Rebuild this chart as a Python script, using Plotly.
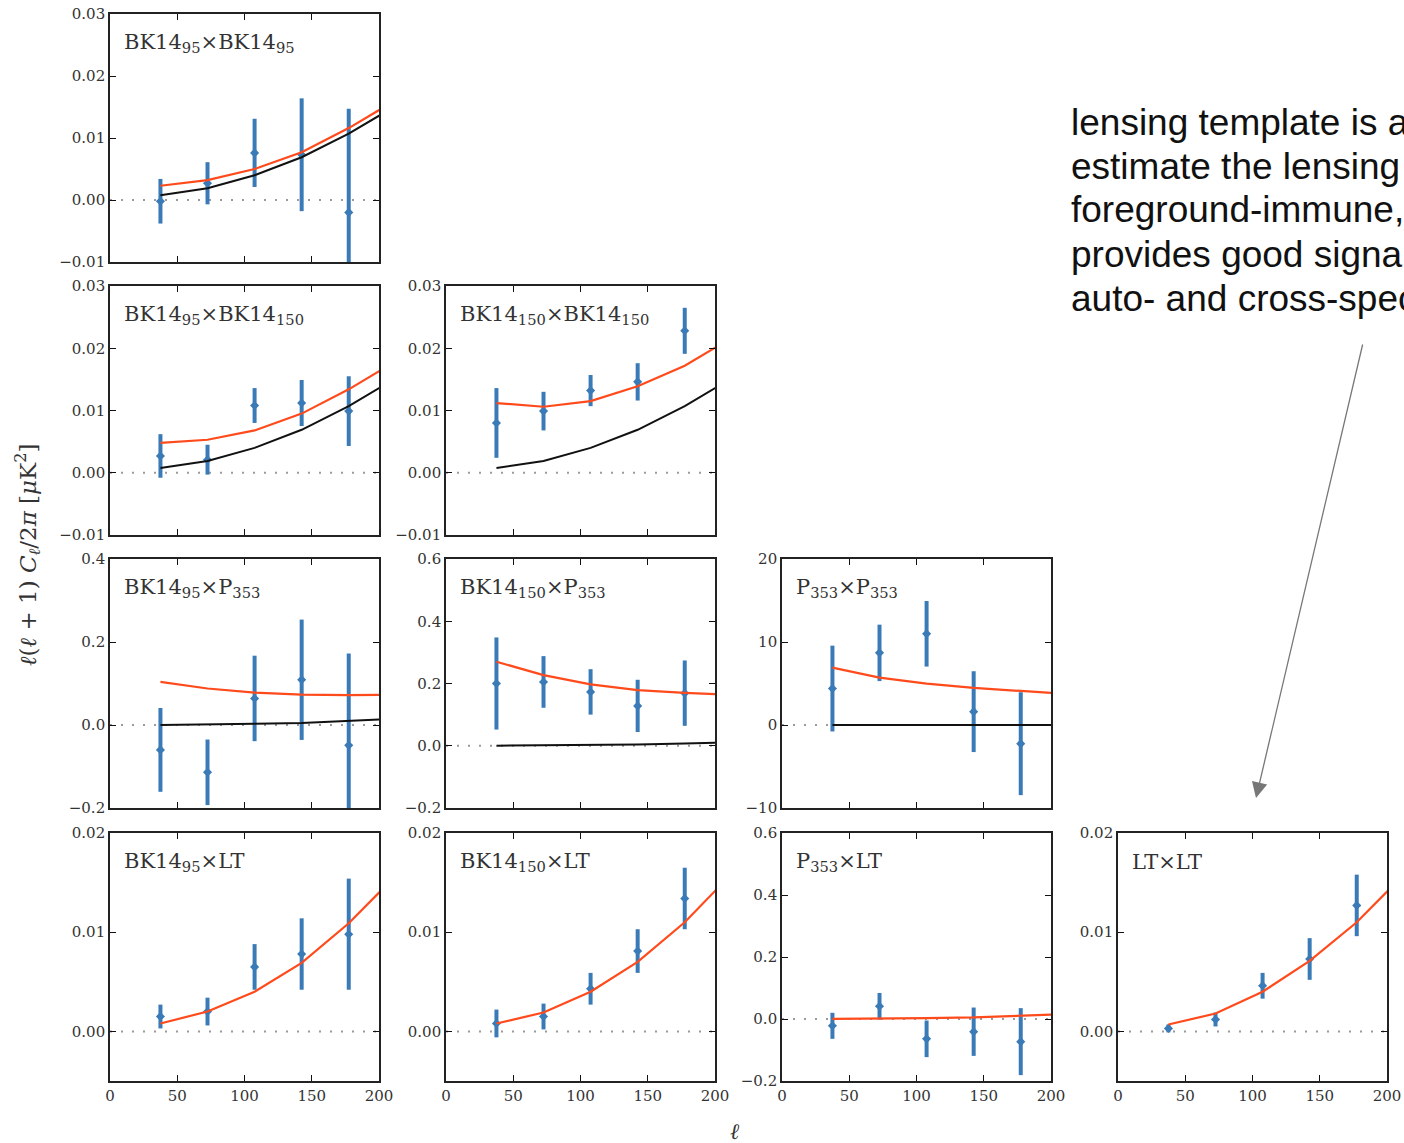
import plotly.graph_objects as go

# ---------------- data ----------------
ELL = [37.5, 72.5, 107.5, 142.5, 177.5]
ELL_MODEL = [37.5, 72.5, 107.5, 142.5, 177.5, 212.5]
X_TICKS = [0, 50, 100, 150, 200]
X_TICK_LABELS = ["0", "50", "100", "150", "200"]

bk95_bk95_val = [-0.0002, 0.0027, 0.0076, 0.0073, -0.0020]
bk95_bk95_err = [0.0036, 0.0034, 0.0055, 0.0091, 0.0167]
bk95_bk95_model = [0.0023, 0.0032, 0.0050, 0.0077, 0.0116, 0.0161]
bk95_bk95_lens = [0.00075, 0.0019, 0.0040, 0.0069, 0.0107, 0.0152]

bk95_bk150_val = [0.0027, 0.0021, 0.0108, 0.0112, 0.0099]
bk95_bk150_err = [0.0035, 0.0024, 0.0028, 0.0037, 0.0056]
bk95_bk150_model = [0.0048, 0.0053, 0.0068, 0.0095, 0.0134, 0.0179]
bk95_bk150_lens = [0.00075, 0.0019, 0.0040, 0.0069, 0.0107, 0.0152]

bk150_bk150_val = [0.0080, 0.0099, 0.0132, 0.0146, 0.0228]
bk150_bk150_err = [0.0056, 0.0031, 0.0025, 0.0030, 0.0037]
bk150_bk150_model = [0.0112, 0.0106, 0.0115, 0.0139, 0.0172, 0.0217]
bk150_bk150_lens = [0.00075, 0.0019, 0.0040, 0.0069, 0.0107, 0.0152]

bk95_p353_val = [-0.060, -0.114, 0.064, 0.109, -0.049]
bk95_p353_err = [0.101, 0.079, 0.103, 0.145, 0.221]
bk95_p353_model = [0.104, 0.088, 0.078, 0.073, 0.072, 0.073]
bk95_p353_lens = [0.0003, 0.001, 0.003, 0.005, 0.009, 0.015]

bk150_p353_val = [0.200, 0.205, 0.173, 0.128, 0.169]
bk150_p353_err = [0.148, 0.083, 0.073, 0.084, 0.105]
bk150_p353_model = [0.270, 0.227, 0.197, 0.179, 0.170, 0.164]
bk150_p353_lens = [0.0003, 0.001, 0.002, 0.004, 0.007, 0.011]

p353_p353_val = [4.39, 8.69, 10.99, 1.61, -2.25]
p353_p353_err = [5.17, 3.40, 3.95, 4.87, 6.20]
p353_p353_model = [6.92, 5.71, 4.99, 4.47, 4.10, 3.73]
p353_p353_lens = [0.001, 0.002, 0.004, 0.007, 0.011, 0.015]

bk95_lt_val = [0.0015, 0.0020, 0.0065, 0.0078, 0.0098]
bk95_lt_err = [0.0012, 0.0014, 0.0023, 0.0036, 0.0056]
bk95_lt_model = [0.0008, 0.0020, 0.0040, 0.0069, 0.0109, 0.0157]

bk150_lt_val = [0.0008, 0.0015, 0.0043, 0.0081, 0.0134]
bk150_lt_err = [0.0014, 0.0013, 0.0016, 0.0022, 0.0031]
bk150_lt_model = [0.0008, 0.0019, 0.0040, 0.0070, 0.0110, 0.0159]

p353_lt_val = [-0.022, 0.041, -0.064, -0.041, -0.073]
p353_lt_err = [0.042, 0.043, 0.059, 0.078, 0.108]
p353_lt_model = [0.0003, 0.001, 0.003, 0.005, 0.009, 0.016]

lt_lt_val = [0.0003, 0.0012, 0.0046, 0.0073, 0.0127]
lt_lt_err = [0.0004, 0.0007, 0.0013, 0.0021, 0.0031]
lt_lt_model = [0.0007, 0.0018, 0.0040, 0.0071, 0.0110, 0.0158]

TICKS_BK = ([-0.01, 0.0, 0.01, 0.02, 0.03], ["\u22120.01", "0.00", "0.01", "0.02", "0.03"])
TICKS_BKP1 = ([-0.2, 0.0, 0.2, 0.4], ["\u22120.2", "0.0", "0.2", "0.4"])
TICKS_BKP2 = ([-0.2, 0.0, 0.2, 0.4, 0.6], ["\u22120.2", "0.0", "0.2", "0.4", "0.6"])
TICKS_PP = ([-10, 0, 10, 20], ["\u221210", "0", "10", "20"])
TICKS_LT = ([0.0, 0.01, 0.02], ["0.00", "0.01", "0.02"])

NOTE_LINES = [
    "lensing template is a",
    "estimate the lensing",
    "foreground-immune,",
    "provides good signa",
    "auto- and cross-spec",
]

panels = [
    dict(row=0, col=0, name="BK14<sub>95</sub>\u00d7BK14<sub>95</sub>", val=bk95_bk95_val, err=bk95_bk95_err,
         model=bk95_bk95_model, lens=bk95_bk95_lens, yr=[-0.01, 0.03], ticks=TICKS_BK),
    dict(row=1, col=0, name="BK14<sub>95</sub>\u00d7BK14<sub>150</sub>", val=bk95_bk150_val, err=bk95_bk150_err,
         model=bk95_bk150_model, lens=bk95_bk150_lens, yr=[-0.01, 0.03], ticks=TICKS_BK),
    dict(row=1, col=1, name="BK14<sub>150</sub>\u00d7BK14<sub>150</sub>", val=bk150_bk150_val, err=bk150_bk150_err,
         model=bk150_bk150_model, lens=bk150_bk150_lens, yr=[-0.01, 0.03], ticks=TICKS_BK),
    dict(row=2, col=0, name="BK14<sub>95</sub>\u00d7P<sub>353</sub>", val=bk95_p353_val, err=bk95_p353_err,
         model=bk95_p353_model, lens=bk95_p353_lens, yr=[-0.2, 0.4], ticks=TICKS_BKP1),
    dict(row=2, col=1, name="BK14<sub>150</sub>\u00d7P<sub>353</sub>", val=bk150_p353_val, err=bk150_p353_err,
         model=bk150_p353_model, lens=bk150_p353_lens, yr=[-0.2, 0.6], ticks=TICKS_BKP2),
    dict(row=2, col=2, name="P<sub>353</sub>\u00d7P<sub>353</sub>", val=p353_p353_val, err=p353_p353_err,
         model=p353_p353_model, lens=p353_p353_lens, yr=[-10, 20], ticks=TICKS_PP),
    dict(row=3, col=0, name="BK14<sub>95</sub>\u00d7LT", val=bk95_lt_val, err=bk95_lt_err,
         model=bk95_lt_model, lens=None, yr=[-0.005, 0.02], ticks=TICKS_LT),
    dict(row=3, col=1, name="BK14<sub>150</sub>\u00d7LT", val=bk150_lt_val, err=bk150_lt_err,
         model=bk150_lt_model, lens=None, yr=[-0.005, 0.02], ticks=TICKS_LT),
    dict(row=3, col=2, name="P<sub>353</sub>\u00d7LT", val=p353_lt_val, err=p353_lt_err,
         model=p353_lt_model, lens=None, yr=[-0.2, 0.6], ticks=TICKS_BKP2),
    dict(row=3, col=3, name="LT\u00d7LT", val=lt_lt_val, err=lt_lt_err,
         model=lt_lt_model, lens=None, yr=[-0.005, 0.02], ticks=TICKS_LT),
]

# ---------------- layout geometry (pixels) ----------------
W, H = 1404, 1143
COL_PX = [(110, 379), (446, 715), (782, 1051), (1118, 1387)]
ROW_PX = [(14, 262), (286, 535), (559, 808), (833, 1081)]

BLUE = "#3a7bb7"
RED = "#ff4a1c"
SERIF = "DejaVu Serif"

fig = go.Figure()
layout = dict(
    width=W, height=H,
    margin=dict(l=0, r=0, t=0, b=0),
    paper_bgcolor="white", plot_bgcolor="white",
    showlegend=False,
    font=dict(family=SERIF, size=15, color="#333"),
)
annotations = []

for i, p in enumerate(panels, start=1):
    xa = "x" if i == 1 else f"x{i}"
    ya = "y" if i == 1 else f"y{i}"
    x0, x1 = COL_PX[p["col"]]
    y0, y1 = ROW_PX[p["row"]]
    bottom = p["row"] == 3

    layout["xaxis" if i == 1 else f"xaxis{i}"] = dict(
        domain=[x0 / W, x1 / W], anchor=ya, range=[0, 200],
        tickvals=X_TICKS, ticktext=X_TICK_LABELS, showticklabels=bottom,
        ticks="inside", ticklen=6, tickwidth=1.2, tickcolor="#111",
        showline=True, linecolor="#222", linewidth=1.6, mirror="ticks",
        showgrid=False, zeroline=False, automargin=False,
        tickfont=dict(family=SERIF, size=15, color="#333"),
    )
    layout["yaxis" if i == 1 else f"yaxis{i}"] = dict(
        domain=[1 - y1 / H, 1 - y0 / H], anchor=xa, range=p["yr"],
        tickvals=p["ticks"][0], ticktext=p["ticks"][1],
        ticks="inside", ticklen=6, tickwidth=1.2, tickcolor="#111",
        showline=True, linecolor="#222", linewidth=1.6, mirror="ticks",
        showgrid=False, zeroline=False, automargin=False,
        tickfont=dict(family=SERIF, size=15, color="#333"),
    )

    # dotted zero line
    fig.add_trace(go.Scatter(x=[0, 200], y=[0, 0], mode="lines", xaxis=xa, yaxis=ya,
                             line=dict(color="#9a9a9a", width=2, dash="2px,9px"), hoverinfo="skip"))
    # band powers with error bars
    fig.add_trace(go.Scatter(x=ELL, y=p["val"], mode="markers", xaxis=xa, yaxis=ya,
                             marker=dict(symbol="diamond", size=7, color=BLUE),
                             error_y=dict(type="data", array=p["err"], visible=True,
                                          color=BLUE, thickness=4, width=0)))
    # lensing expectation
    if p["lens"] is not None:
        fig.add_trace(go.Scatter(x=ELL_MODEL, y=p["lens"], mode="lines", xaxis=xa, yaxis=ya,
                                 line=dict(color="#111", width=2)))
    # model
    fig.add_trace(go.Scatter(x=ELL_MODEL, y=p["model"], mode="lines", xaxis=xa, yaxis=ya,
                             line=dict(color=RED, width=2.2)))

    annotations.append(dict(
        text=p["name"], xref=f"{xa} domain", yref=f"{ya} domain",
        x=0.045, y=0.885, xanchor="left", yanchor="middle", showarrow=False,
        font=dict(family=SERIF, size=21, color="#333"),
    ))

# axis titles
annotations.append(dict(
    text="<i>\u2113</i>(<i>\u2113</i> + 1) <i>C</i><sub><i>\u2113</i></sub>/2<i>\u03c0</i> [<i>\u03bc</i>K<sup>2</sup>]",
    xref="paper", yref="paper", x=27 / W, y=1 - 555 / H, textangle=-90,
    xanchor="center", yanchor="middle",
    showarrow=False, font=dict(family=SERIF, size=23, color="#333"),
))
annotations.append(dict(
    text="<i>\u2113</i>", xref="paper", yref="paper", x=735 / W, y=1 - 1131 / H,
    xanchor="center", yanchor="middle",
    showarrow=False, font=dict(family=SERIF, size=22, color="#333"),
))

# side note (one annotation per line) and arrow
for k, line in enumerate(NOTE_LINES):
    annotations.append(dict(
        text=line, xref="paper", yref="paper", x=1069 / W, y=1 - (122 + 44 * k) / H,
        xanchor="left", yanchor="middle", align="left", showarrow=False,
        font=dict(family="Liberation Sans", size=37, color="#111"),
    ))
annotations.append(dict(
    text="", xref="paper", yref="paper", x=1256 / W, y=1 - 798 / H,
    ax=107, ay=-455, axref="pixel", ayref="pixel",
    showarrow=True, arrowhead=2, arrowsize=2.4, arrowwidth=1.3, arrowcolor="#777", standoff=0,
))

layout["annotations"] = annotations
fig.update_layout(**layout)
fig.write_html("out.html",
               config={"displayModeBar": False},
               post_script="document.body.style.margin='0px';document.body.style.overflow='hidden';")
